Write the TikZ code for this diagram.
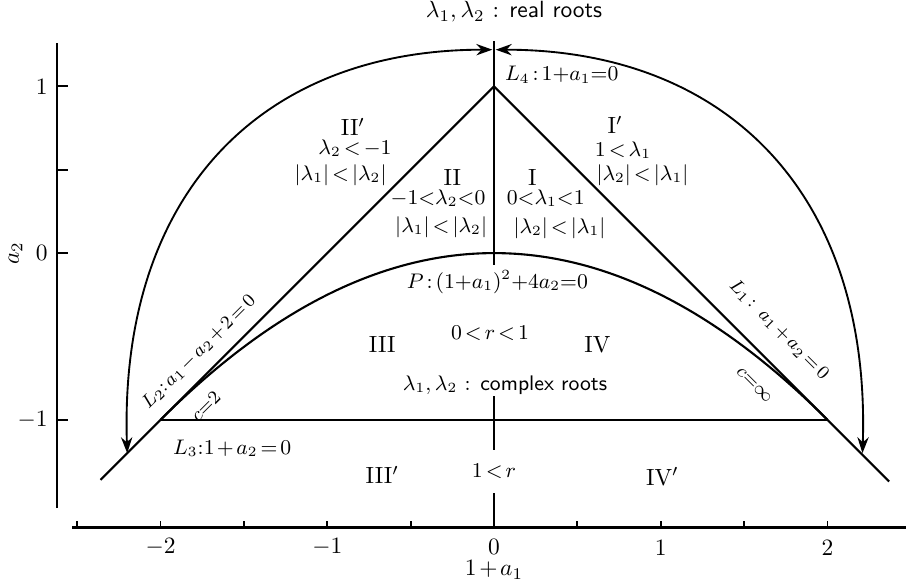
\documentclass[tikz,border=0pt]{standalone}
\usetikzlibrary{arrows.meta,positioning,calc}
\thickmuskip=2.5mu plus 1mu
\medmuskip=2mu plus 1mu
\tikzset{achse/.style={draw=black,line width=1.1pt},
  kurve/.style={draw=black,line width=0.9pt},
  strich/.style={draw=black,line width=0.8pt},
  bogen/.style={draw=black,line width=0.8pt,{Stealth[length=2.4mm,width=1.7mm]}-{Stealth[length=2.4mm,width=1.7mm]}},
  gebiet/.style={font=\small,inner sep=1pt},
  ziffer/.style={font=\rmfamily,inner sep=1pt},
  geraden-label/.style={font=\footnotesize,inner sep=1pt},
  tick-label/.style={font=\normalsize,inner sep=1pt}}

\begin{document}
\begin{tikzpicture}[x=2.5cm,y=2.5cm]
\useasboundingbox (-2.963,-1.98) rectangle (2.489,1.518);

\coordinate (Yb) at (-2.62,-1.53);
\coordinate (Yt) at (-2.62,1.26);
\coordinate (Xl) at (-2.53,-1.645);
\coordinate (Xr) at (2.47,-1.645);
\draw[achse] (Yb) -- (Yt);
\draw[achse] (Xl) -- (Xr);
\foreach \y in {-1,0,0.5,1} \draw[strich] (-2.62,\y) -- ++(0.065,0);
\foreach \x in {-2.5,-2,...,2} \draw[strich] (\x,-1.645) -- ++(0,0.04);

\node[tick-label,anchor=east] (Y1) at (-2.66,1) {1};
\node[tick-label,anchor=east] (Y0) at (-2.66,0) {0};
\node[tick-label,anchor=east] (Ym1) at (-2.66,-1) {$-1$};
\node[tick-label,rotate=90] (Ya) at (-2.87,0) {$a_2$};
\node[tick-label] (Xm2) at (-2,-1.764) {$-2$};
\node[tick-label] (Xm1) at (-1,-1.764) {$-1$};
\node[tick-label] (X0) at (0,-1.764) {0};
\node[tick-label] (X1) at (1,-1.764) {1};
\node[tick-label] (X2) at (2,-1.764) {2};
\node[tick-label] (Xa) at (0,-1.9) {$1+a_1$};

\coordinate (A) at (0,1);
\coordinate (B) at (-2,-1);
\coordinate (C) at (2,-1);
\coordinate (L2end) at (-2.36,-1.36);
\coordinate (L1end) at (2.37,-1.37);
\coordinate (L4top) at (0,1.27);
\coordinate (L4bot) at (0,-0.07);
\draw[kurve] (L2end) -- (A) -- (L1end);
\draw[kurve] (B) -- (C);
\draw[kurve] (L4top) -- (L4bot);
\draw[kurve,domain=-2:2,samples=80,smooth] plot (\x,{-\x*\x/4});

\coordinate (Rtop) at (0,-0.86);
\coordinate (Rbot) at (0,-1.645);
\node[gebiet,inner ysep=6pt] (R1) at (0,-1.31) {$1<r$};
\draw[kurve] (Rtop) -- (R1) -- (Rbot);

\coordinate (Lfoot) at (-2.2,-1.2);
\coordinate (Rfoot) at (2.21,-1.2);
\coordinate (Ltop) at (-0.01,1.22);
\coordinate (Rtopp) at (0.01,1.22);
\draw[bogen] (Lfoot) .. controls (-2.25,0.35) and (-1.4,1.22) .. (Ltop);
\draw[bogen] (Rfoot) .. controls (2.26,0.35) and (1.4,1.22) .. (Rtopp);

\node[gebiet,font=\normalsize] (real) at (0.12,1.446) {$\lambda_1,\lambda_2$ : \textsf{real roots}};
\node[gebiet,anchor=west] (L4) at (0.05,1.07) {$L_4 : 1{+}a_1{=}0$};

\node[ziffer] (IIp) at (-0.846,0.756) {II$'$};
\node[gebiet] (IIpa) at (-0.834,0.63) {$\lambda_2<-1$};
\node[gebiet] (IIpb) at (-0.92,0.47) {$|\lambda_1|<|\lambda_2|$};

\node[ziffer] (II) at (-0.25,0.456) {II};
\node[gebiet,anchor=east] (IIa) at (-0.035,0.33) {$-1{<}\lambda_2{<}0$};
\node[gebiet,anchor=east] (IIb) at (-0.025,0.156) {$|\lambda_1|<|\lambda_2|$};

\node[ziffer] (I) at (0.23,0.456) {I};
\node[gebiet,anchor=west] (Ia) at (0.06,0.33) {$0{<}\lambda_1{<}1$};
\node[gebiet,anchor=west] (Ib) at (0.1,0.15) {$|\lambda_2|<|\lambda_1|$};

\node[ziffer] (Ip) at (0.726,0.768) {I$'$};
\node[gebiet] (Ipa) at (0.774,0.618) {$1<\lambda_1$};
\node[gebiet] (Ipb) at (0.89,0.468) {$|\lambda_2|<|\lambda_1|$};

\node[gebiet] (P) at (0.02,-0.174) {$P : (1{+}a_1)^2{+}4a_2{=}0$};
\node[gebiet] (r01) at (-0.024,-0.48) {$0<r<1$};
\node[ziffer] (III) at (-0.67,-0.55) {III};
\node[ziffer] (IV) at (0.62,-0.55) {IV};
\node[gebiet] (complex) at (0.066,-0.79) {$\lambda_1,\lambda_2$ : \textsf{complex roots}};

\node[ziffer] (IIIp) at (-0.67,-1.33) {III$'$};
\node[ziffer] (IVp) at (1.01,-1.34) {IV$'$};

\node[gebiet] (L3) at (-1.57,-1.17) {$L_3{:}1+a_2=0$};
\node[geraden-label,rotate=45] (L2) at (-1.77,-0.59) {$L_2\!: a_1-a_2+2=0$};
\node[geraden-label,rotate=45] (c2) at (-1.73,-0.92) {$c{=}2$};
\node[geraden-label,rotate=-45] (L1) at (1.71,-0.46) {$L_1 :\ a_1+a_2=0$};
\node[geraden-label,rotate=-45] (cinf) at (1.56,-0.79) {$c{=}\infty$};

\end{tikzpicture}
\end{document}
